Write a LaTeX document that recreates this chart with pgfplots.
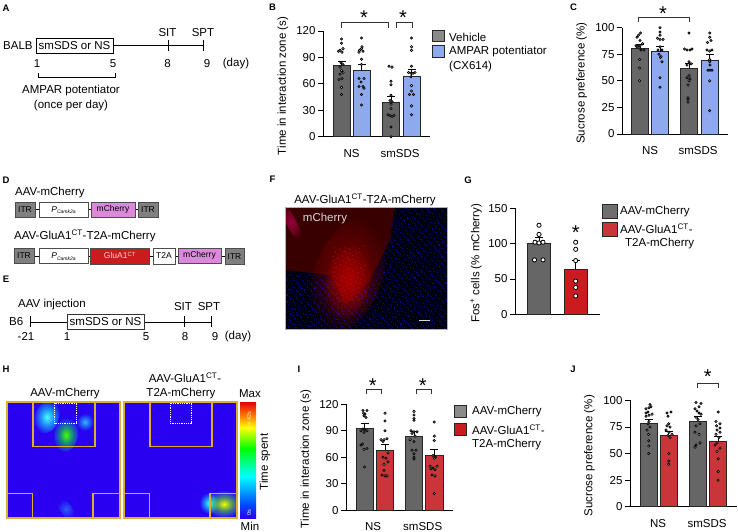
\documentclass[border=0pt]{standalone}
\usepackage{fontspec}
\setmainfont{Liberation Sans}
\usepackage{pgfplots}
\pgfplotsset{compat=1.18}
\usetikzlibrary{fadings,calc}
\definecolor{gb}{HTML}{666666}
\definecolor{lg}{HTML}{8A8A8A}
\definecolor{bb}{HTML}{8FA9EE}
\definecolor{rb}{HTML}{CC1B1F}
\definecolor{rl}{HTML}{C93538}
\definecolor{pk}{HTML}{DB8ADB}
\definecolor{itr}{HTML}{808080}
\definecolor{gold}{HTML}{E0AE2A}
\definecolor{hb}{HTML}{2A00F0}
\newcommand{\fs}{\fontsize{11.5}{13}\selectfont}
\pgfplotsset{
  /pgf/number format/assume math mode=true,
  panel/.style={scale only axis, axis lines=left, axis line style={-,line width=0.8pt},
    enlargelimits=false, clip=false, xmin=0, ymin=0, tick align=outside,
    major tick length=5pt, tick style={black,line width=0.8pt}, xtick style={draw=none},
    tick label style={font=\fs}, label style={font=\fs},
    xticklabel style={yshift=-4pt}, ylabel style={anchor=center},
    yticklabel style={xshift=1pt}},
  gbar/.style n args={2}{ybar, bar shift=0pt, bar width=#2pt, fill=#1, draw=black!85, line width=1pt,
    error bars/.cd, y dir=plus, y explicit, error bar style={line width=0.8pt,black},
    error mark options={rotate=90,mark size=4pt,line width=0.8pt,black}},
  dots/.style={only marks, mark=*, mark size=1.15pt, mark options={fill=white,draw=black,line width=0.7pt}},
  bdots/.style={only marks, mark=*, mark size=2.1pt, mark options={fill=white,draw=black,line width=0.8pt}},
}
\tikzfading[name=soft, inner color=transparent!0, outer color=transparent!100]
\pgfdeclareradialshading{bgreen}{\pgfpointorigin}{color(0bp)=(green!70!yellow); color(14bp)=(green!85!cyan); color(26bp)=(cyan); color(38bp)=(blue!55!cyan); color(50bp)=(hb)}
\pgfdeclareradialshading{bcyan}{\pgfpointorigin}{color(0bp)=(cyan!70!white); color(18bp)=(cyan); color(34bp)=(blue!50!cyan); color(50bp)=(hb)}
\pgfdeclareradialshading{bhot}{\pgfpointorigin}{color(0bp)=(yellow); color(12bp)=(green!60!yellow); color(28bp)=(cyan!80!green); color(42bp)=(blue!50!cyan); color(50bp)=(hb)}
\pgfdeclareverticalshading{rainb}{100bp}{color(0bp)=(hb); color(25bp)=(hb); color(31bp)=(blue!70!cyan); color(43bp)=(cyan); color(55bp)=(green); color(64bp)=(yellow); color(69bp)=(orange); color(75bp)=(red!90!black); color(100bp)=(red!90!black)}
\begin{document}
\begin{tikzpicture}[x=1pt,y=-1pt,
  t/.style={inner sep=0pt,font=\fs,align=center},
  l/.style={inner sep=0pt,font=\fontsize{9.5}{11}\selectfont\bfseries},
  st/.style={inner sep=0pt,font=\fontsize{20}{20}\selectfont},
  gen/.style={inner sep=0pt,font=\fontsize{8.5}{9}\selectfont}]
\path[use as bounding box] (0,0) rectangle (738,531);
\fill[white] (0,0) rectangle (738,531);
% ---------- Panel letters
\foreach \a/\xx/\yy in {A/6/8,B/272.5/7,C/573.5/7,D/6/180,E/6/279,F/272.5/179,G/468/180,H/6/369,I/299/369,J/573/369}
  \node[l] at (\xx,\yy) {\a};
% ---------- Panel A
\node[t,anchor=west] at (3,45.5) {BALB};
\draw[line width=0.8pt] (113,45.5) -- (203.5,45.5);
\draw[line width=0.8pt] (36,38.5) rectangle (113,53);
\node[t] at (74.5,46) {smSDS or NS};
\draw[line width=0.8pt] (168,39.5)--(168,51) (203.5,39.5)--(203.5,51);
\node[t] at (167.5,33) {SIT};
\node[t] at (203,33) {SPT};
\foreach \n/\xx in {1/37,5/113,8/167.5,9/207}\node[t] at (\xx,63.5) {\n};
\node[t] at (236,64) {(day)};
\draw[line width=0.8pt] (38,73)--(38,77.5)--(115,77.5)--(115,73);
\node[t] at (71,90.5) {AMPAR potentiator};
\node[t] at (71,106) {(once per day)};
% ---------- Panel D
\node[t,anchor=west] at (15,192.5) {AAV-mCherry};
\draw[line width=0.8pt] (35,209.5)--(138,209.5);
\foreach \x/\X/\c/\txt in {15/35/itr/ITR,91/135/pk/mCherry,138/158/itr/ITR}{
  \draw[draw=black!70,fill=\c,line width=1pt] (\x,202) rectangle (\X,217);
  \node[gen] at ({(\x+\X)/2},209.5) {\txt};}
\draw[draw=black!70,fill=white,line width=1pt] (39,202) rectangle (88,217);
\node[gen] at (63.5,210) {\textit{P}\raisebox{-1.2pt}{\fontsize{5}{5}\selectfont\textit{Camk2a}}};
\node[t,anchor=west] at (14,236) {AAV-GluA1\textsuperscript{CT}-T2A-mCherry};
\draw[line width=0.8pt] (34,256)--(225,256);
\draw[draw=black!70,fill=itr,line width=1pt] (14,248) rectangle (34,263);
\node[gen] at (24,255.5) {ITR};
\draw[draw=black!70,fill=white,line width=1pt] (39,248) rectangle (88,263);
\node[gen] at (63.5,256.5) {\textit{P}\raisebox{-1.2pt}{\fontsize{5}{5}\selectfont\textit{Camk2a}}};
\draw[draw=black!70,fill=rb,line width=1pt] (90.5,248) rectangle (149,264);
\node[gen,text=white!80!red] at (120,255.5) {GluA1\textsuperscript{CT}};
\draw[draw=black!70,fill=white,line width=1pt] (153,248) rectangle (175,264);
\node[gen] at (164,256) {T2A};
\draw[draw=black!70,fill=pk,line width=1pt] (178,248) rectangle (221,263);
\node[gen] at (199.5,255.5) {mCherry};
\draw[draw=black!70,fill=itr,line width=1pt] (225,248) rectangle (244,264);
\node[gen] at (234.5,256.5) {ITR};
% ---------- Panel E
\node[t,anchor=west] at (18,305) {AAV injection};
\node[t,anchor=west] at (9,322) {B6};
\draw[line width=0.8pt] (30,322)--(211,322) (30,316)--(30,327) (184,316)--(184,327) (211,316)--(211,327);
\draw[fill=white,line width=0.8pt,draw=black!80] (67,314.5) rectangle (144,329.5);
\node[t] at (105.5,322) {smSDS or NS};
\node[t] at (183,307) {SIT};
\node[t] at (209,307) {SPT};
\foreach \n/\xx in {-21/26,1/67,5/146,8/185,9/215}\node[t] at (\xx,336.5) {\n};
\node[t] at (238,336.5) {(day)};
% ---------- Panel F (micrograph, drawn as a texture)
\node[t] at (365,200) {AAV-GluA1\textsuperscript{CT}-T2A-mCherry};
\begin{scope}
\clip (285,207) rectangle (447,329);
\fill[black!92!blue] (285,207) rectangle (447,329);
\fill[red!22!black] (285,207) -- (395,207) -- (390,240) -- (370,280) -- (346,305) -- (330,275) -- (285,270) -- cycle;
\shade[path fading=soft,inner color=red!60!black,outer color=red!60!black,opacity=.7,rotate around={-20:(348,275)}] (348,275) ellipse (34 and 60);
\shade[path fading=soft,inner color=red!75!black,outer color=red!75!black,opacity=.7,rotate around={-15:(348,282)}] (348,282) ellipse (22 and 38);
\shade[path fading=soft,inner color=violet!60!red,outer color=violet!60!red,opacity=.8,rotate around={28:(291,222)}] (291,222) ellipse (5 and 24);
\begin{scope}
\clip (285,272) -- (330,276) -- (346,306) -- (375,275) -- (390,240) -- (395,207) -- (447,207) -- (447,329) -- (285,329) -- cycle;
\foreach \i in {1,...,1300}{
  \pgfmathsetmacro{\px}{285+162*(mod(\i*0.7548776662,1))}
  \pgfmathsetmacro{\py}{207+122*(mod(\i*0.5698402910,1))}
  \fill[hb,opacity=.55] (\px,\py) rectangle ++(1.1,1.1);}
\end{scope}
\foreach \i in {1,...,110}{
  \pgfmathsetmacro{\px}{332+34*(mod(\i*0.7548776662,1))}
  \pgfmathsetmacro{\py}{245+55*(mod(\i*0.5698402910,1))}
  \fill[red!90!white,opacity=.3] (\px,\py) rectangle ++(1.2,1.2);}
\end{scope}
\node[t,text=white!85!black] at (325,218.5) {mCherry};
\draw[white!85!black,line width=1pt] (419,320) -- (430,320);
\draw[gray!60,line width=0.4pt] (285,207) rectangle (447,329);
% ---------- Panel H
\node[t] at (65,393.5) {AAV-mCherry};
\node[t] at (185,377.5) {AAV-GluA1\textsuperscript{CT}-};
\node[t] at (181,393.5) {T2A-mCherry};
\begin{scope}
\clip (7,402) rectangle (120,518);
\fill[hb] (7,402) rectangle (120,518);
\shade[path fading=soft,shading=bcyan,rotate around={-20:(47,417)}] (47,417) ellipse (12 and 17);
\shade[path fading=soft,shading=bcyan,opacity=.7] (85,422) ellipse (9 and 9);
\shade[path fading=soft,shading=bgreen,rotate around={-10:(66,435)}] (66,435) ellipse (12 and 17);
\shade[path fading=soft,shading=bcyan,opacity=.35,rotate around={35:(66,509)}] (66,509) ellipse (6 and 13);
\end{scope}
\begin{scope}
\clip (124,402) rectangle (237,518);
\fill[hb] (124,402) rectangle (237,518);
\shade[path fading=soft,shading=bcyan] (209,503) ellipse (10 and 11);
\shade[path fading=soft,shading=bhot,rotate around={-5:(224,504)}] (224,504) ellipse (18 and 13.5);
\end{scope}
\foreach \o in {0,117}{
  \draw[gold,line width=1.2pt] (7+\o,402) rectangle (120+\o,518);
  \draw[gold,line width=1.2pt] (33+\o,402) rectangle (95+\o,446.5);
  \draw[gold,line width=1.2pt] (7+\o,493.5) rectangle (32.5+\o,518);
  \draw[gold,line width=1.2pt] (93+\o,493.5) rectangle (120+\o,518);
}
\draw[white,densely dotted,line width=0.8pt] (54.7,403)--(54.7,423)--(76.3,423)--(76.3,403)--cycle;
\draw[white,densely dotted,line width=0.8pt] (170,403)--(170,423)--(191.5,423)--(191.5,403)--cycle;
\shade[shading=rainb] (240,402) rectangle (256,518);
\node[t] at (250,393.5) {Max};
\node[t] at (250,526) {Min};
\node[t,rotate=90] at (265,462) {Time spent};
\node[inner sep=0pt,rotate=90,text=white!85!orange,font=\fontsize{5.5}{6}\selectfont] at (249,422) {\textasciitilde 1m 42s};
\node[inner sep=0pt,rotate=90,text=white,font=\fontsize{5.5}{6}\selectfont] at (249,512.5) {0s};
% ---------- Panel B
\begin{axis}[panel, at={(323pt,-136.7pt)}, anchor=south west, width=107pt, height=105.7pt, xmax=107, ymax=120,
  ytick={0,30,60,90,120}, xtick={28.5,77}, xticklabels={NS,smSDS},
  ylabel={Time in interaction zone (s)}, ylabel style={at={(axis description cs:-0.374,0.48)}}]
\addplot[gbar={gb}{17}] coordinates {(18.5,81) +- (0,5)};
\addplot[gbar={bb}{17}] coordinates {(38.5,75) +- (0,7)};
\addplot[gbar={gb}{17}] coordinates {(68,39) +- (0,7)};
\addplot[gbar={bb}{17}] coordinates {(88.5,68) +- (0,8)};
\addplot[dots] coordinates {(18.5,111)(18.5,106)(20,100)(17,98)(19,96)(15.5,97)(18,84)(20,82)(17,79)(18.5,75)(20,73)(17,71)(19,66)(16,65)(18.5,56)(18.5,48)};
\addplot[dots] coordinates {(38.5,112)(38.5,100)(36.5,98)(39,102)(40,97)(36,96)(38.5,88)(38.5,82)(36,66)(41,66)(38,62)(36,57)(40,57)(41,55)(38.5,48)(38.5,36)};
\addplot[dots] coordinates {(66,80)(69,79)(68,63)(68,59)(68,47)(67,41)(69,40)(68,37)(68,32)(65,25)(67,24)(69,23)(71,24)(68,11)(68,0)};
\addplot[dots] coordinates {(88.5,112)(88.5,102)(88.5,98)(88.5,80)(85.5,73)(88,72)(90,72)(92,73)(88,68)(88.5,58)(88.5,52)(86.5,48)(90.5,48)(88.5,35)(88.5,25)};
\end{axis}
\draw[line width=0.8pt,black!80] (341,27.5)--(341,22.5)--(388.5,22.5)--(388.5,27.5);
\draw[line width=0.8pt,black!80] (396.7,27.5)--(396.7,22.5)--(412,22.5)--(412,27.5);
\node[st] at (364,18) {*};
\node[st] at (403,18) {*};
\draw[draw=black!85,fill=lg,line width=1pt] (432,30.5) rectangle (444,41.5);
\draw[draw=black!85,fill=bb,line width=1pt] (432,45.5) rectangle (444,57);
\node[t,anchor=west] at (449,37) {Vehicle};
\node[t,anchor=west] at (449,52) {AMPAR potentiator};
\node[t,anchor=west] at (449,67) {(CX614)};
% ---------- Panel C
\begin{axis}[panel, at={(622pt,-134pt)}, anchor=south west, width=106pt, height=106.3pt, xmax=106, ymax=100,
  ytick={0,25,50,75,100}, xtick={28,76}, xticklabels={NS,smSDS},
  ylabel={Sucrose preference (\%)}, ylabel style={at={(axis description cs:-0.38,0.48)}}]
\addplot[gbar={gb}{17}] coordinates {(17.7,80) +- (0,4)};
\addplot[gbar={bb}{17}] coordinates {(38,77.5) +- (0,4.5)};
\addplot[gbar={gb}{17}] coordinates {(67,61.5) +- (0,5)};
\addplot[gbar={bb}{17}] coordinates {(87.7,69.5) +- (0,5.5)};
\addplot[dots] coordinates {(18.5,95)(16.5,93)(15,91)(18,88)(14,83)(16,83)(18,83)(20.5,85)(15,82)(17.5,81)(19,79)(22,79)(17.5,70)(17.5,62)(17.5,50)};
\addplot[dots] coordinates {(38,100)(38,96)(38,93)(35.5,90)(38,89)(41,89)(38,82)(36,79)(40,79)(37,75)(39,73)(38.5,72)(40,68)(38,53)(38,44)};
\addplot[dots] coordinates {(67,95)(62.5,80)(65,79)(68,79)(70,80)(67,68)(69,66)(65,65)(67,55)(65,53)(68,52)(67,50)(66,46)(66,34)(66,33)(66,30)};
\addplot[dots] coordinates {(87.7,95)(87.7,91)(89,88)(85.5,86)(85,79)(87.7,78)(90,79)(87.7,70)(87.7,68)(86,60)(88,60)(90,60)(88,65)(87.7,50)(87.7,22)};
\end{axis}
\draw[line width=0.8pt,black!80] (638.5,22)--(638.5,17.5)--(689,17.5)--(689,22);
\node[st] at (663,14) {*};
% ---------- Panel G
\begin{axis}[panel, at={(515pt,-314.3pt)}, anchor=south west, width=85pt, height=106pt, xmax=85, ymax=150,
  ytick={0,50,100,150}, xtick=\empty,
  ylabel={Fos\textsuperscript{+} cells (\% mCherry)}, ylabel style={at={(axis description cs:-0.459,0.481)}}]
\addplot[gbar={gb}{23.3}] coordinates {(24,100) +- (0,9)};
\addplot[gbar={rb}{23.3}] coordinates {(60.7,64) +- (0,12)};
\addplot[bdots] coordinates {(24,126)(24,113)(20,102)(24,101)(28,102)(19.5,77)(28,77)};
\addplot[bdots] coordinates {(60.7,102)(60.7,92)(60.7,76)(60.7,47)(60.7,38)(60.7,26)};
\end{axis}
\node[st] at (575.7,233) {*};
\draw[draw=black!85,fill=lg!80!black,line width=1pt] (602.5,204.5) rectangle (617,218.5);
\draw[draw=black!85,fill=rl,line width=1pt] (602.5,222.5) rectangle (617,236.5);
\node[t,anchor=west] at (620,212) {AAV-mCherry};
\node[t,anchor=west] at (620,228.5) {AAV-GluA1\textsuperscript{CT}-};
\node[t,anchor=west] at (625,244) {T2A-mCherry};
% ---------- Panel I
\begin{axis}[panel, at={(346pt,-510.3pt)}, anchor=south west, width=106.7pt, height=106pt, xmax=106.7, ymax=120,
  ytick={0,30,60,90,120}, xtick={27,76.7}, xticklabels={NS,smSDS},
  ylabel={Time in interaction zone (s)}, ylabel style={at={(axis description cs:-0.375,0.484)}}]
\addplot[gbar={gb}{17.5}] coordinates {(18.8,92.5) +- (0,6)};
\addplot[gbar={rl}{17.5}] coordinates {(39,68) +- (0,6.5)};
\addplot[gbar={gb}{17.5}] coordinates {(68,84) +- (0,5)};
\addplot[gbar={rl}{17.5}] coordinates {(88.3,62) +- (0,7)};
\addplot[dots] coordinates {(17,113)(21,113)(17.5,110)(19,109)(18,107)(20,105)(17,92)(19,91)(21,90)(15,90)(18,88)(16.5,75)(15,74)(21,70)(18,69)(18.5,49)};
\addplot[dots] coordinates {(39,110)(39,101)(39,90)(35,80)(38,80)(41,81)(37,78)(42,65)(37,60)(40,59)(42,55)(38,52)(38,45)(36,40)(39,39)(41,39)};
\addplot[dots] coordinates {(68,112)(68,108)(68,104)(68,102)(65,90)(68,89)(71,89)(66,87)(69,84)(64,80)(68,78)(66,68)(70,68)(68,64)(68,60)(68,58)};
\addplot[dots] coordinates {(88.3,100)(88.3,84)(88.3,79)(87,62)(89.5,60)(88.3,59)(84,50)(91,50)(87,48)(85,47)(89,46)(86,40)(89,39)(88.3,19)};
\end{axis}
\draw[line width=0.8pt,black!80] (366,394)--(366,389.3)--(381.7,389.3)--(381.7,394);
\draw[line width=0.8pt,black!80] (416,394)--(416,389.3)--(431.7,389.3)--(431.7,394);
\node[st] at (372.7,386) {*};
\node[st] at (422.7,386) {*};
\draw[draw=black!85,fill=lg,line width=1pt] (454.5,405) rectangle (466.5,417.5);
\draw[draw=black!85,fill=rb,line width=1pt] (454.5,423) rectangle (466.5,435);
\node[t,anchor=west] at (472,412) {AAV-mCherry};
\node[t,anchor=west] at (472,430) {AAV-GluA1\textsuperscript{CT}-};
\node[t,anchor=west] at (472,445) {T2A-mCherry};
% ---------- Panel J
\begin{axis}[panel, at={(630pt,-506.7pt)}, anchor=south west, width=106.7pt, height=106.4pt, xmax=106.7, ymax=100,
  ytick={0,25,50,75,100}, xtick={28,77}, xticklabels={NS,smSDS},
  ylabel={Sucrose preference (\%)}, ylabel style={at={(axis description cs:-0.381,0.478)}}]
\addplot[gbar={gb}{17.3}] coordinates {(18.7,78.5) +- (0,4)};
\addplot[gbar={rl}{17.3}] coordinates {(38.7,66.5) +- (0,4)};
\addplot[gbar={gb}{17.3}] coordinates {(67.8,80.5) +- (0,4)};
\addplot[gbar={rl}{17.3}] coordinates {(88.2,61) +- (0,5)};
\addplot[dots] coordinates {(20,96)(21,94)(19,93)(16,92)(18,89)(16,88)(22,87)(19,86)(16,85)(19,80)(18,78)(20,75)(17,72)(18.7,68)(18.7,62)(18.7,57)(18.7,50)};
\addplot[dots] coordinates {(41,89)(37,88)(38,85)(38.7,78)(37,76)(40,75)(36,72)(39,70)(42,68)(38,67)(40,65)(38.7,50)(38.7,43)(38.7,40)};
\addplot[dots] coordinates {(66,98)(71,97)(69,94)(65,92)(67,90)(69,88)(71,87)(66,84)(68,82)(70,78)(66,76)(65,70)(69,68)(70,60)(66,58)(65,56)};
\addplot[dots] coordinates {(88.2,89)(86,80)(90,78)(86.5,76)(90,74)(87,72)(90,70)(86,68)(89,65)(87,60)(85,58)(90,55)(87,52)(88.2,45)(88.2,33)(88.2,25)};
\end{axis}
\draw[line width=0.8pt,black!80] (697.3,388)--(697.3,383.5)--(718,383.5)--(718,388);
\node[st] at (707.7,377) {*};
\end{tikzpicture}
\end{document}
